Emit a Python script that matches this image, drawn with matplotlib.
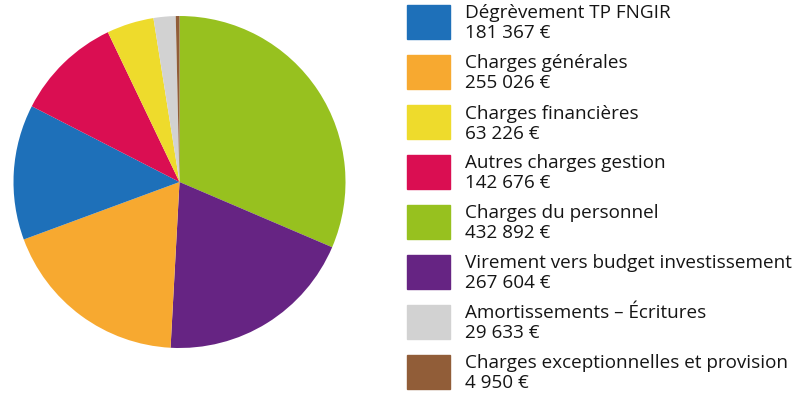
import matplotlib.pyplot as plt
from matplotlib.patches import Rectangle

plt.rcParams['font.family'] = ['Open Sans', 'DejaVu Sans']

# legend order
labels = ['Dégrèvement TP FNGIR', 'Charges générales', 'Charges financières',
          'Autres charges gestion', 'Charges du personnel',
          'Virement vers budget investissement', 'Amortissements – Écritures',
          'Charges exceptionnelles et provision']
values = [181367, 255026, 63226, 142676, 432892, 267604, 29633, 4950]
value_text = ['181 367 €', '255 026 €', '63 226 €', '142 676 €',
              '432 892 €', '267 604 €', '29 633 €', '4 950 €']
colors = ['#1e70b9', '#f7a930', '#eedb2c', '#da0e52', '#97c11f',
          '#662483', '#d2d2d2', '#915d38']

# order of slices, clockwise from the top
pie_order = [4, 5, 1, 0, 3, 2, 6, 7]

W, H = 801, 401
fig = plt.figure(figsize=(W / 100, H / 100), dpi=100)

# pie: centre (179.5, 182) px, radius 166 px
cx, cy, r = 179.5, 182, 166
ax = fig.add_axes([(cx - r) / W, (H - cy - r) / H, 2 * r / W, 2 * r / H])
ax.pie([values[i] for i in pie_order], colors=[colors[i] for i in pie_order],
       startangle=90, counterclock=False, radius=1)
ax.set_xlim(-1, 1)
ax.set_ylim(-1, 1)
ax.set_aspect('auto')
ax.axis('off')

# legend
for i, (lab, vt, c) in enumerate(zip(labels, value_text, colors)):
    top = 5 + i * 50
    fig.patches.append(Rectangle((407 / W, 1 - (top + 34) / H), 43 / W, 34 / H,
                                 transform=fig.transFigure, color=c))
    fig.text(465 / W, 1 - (top + 13.5) / H, lab, fontsize=13.6, color='#151515',
             va='baseline')
    fig.text(465 / W, 1 - (top + 33.5) / H, vt, fontsize=13.6, color='#151515',
             va='baseline')

fig.savefig('out.png', dpi=100)
